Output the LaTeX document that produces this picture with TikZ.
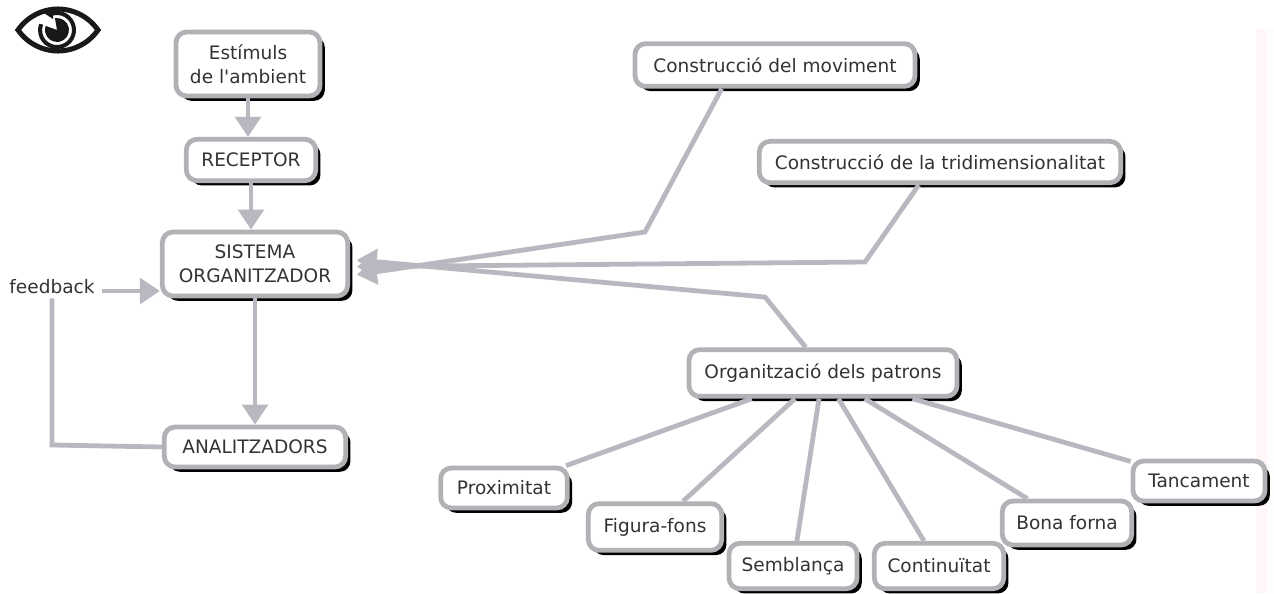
\documentclass[tikz,border=0pt]{standalone}
\usepackage{fontspec}
\setmainfont{DejaVu Sans}
\usetikzlibrary{arrows.meta,shadows}
\definecolor{linkgray}{RGB}{184,184,192}
\definecolor{edgegray}{RGB}{178,178,182}
\tikzset{
	conceptfont/.style={font=\fontsize{13.9}{18}\selectfont, text=black!80},
	conceptbox/.style={conceptfont, draw=edgegray, line width=3.6pt, fill=white, rounded corners=8pt, align=center, inner sep=0pt,
		general shadow={fill=black, shadow xshift=3.6pt, shadow yshift=-3.6pt}},
	link/.style={draw=linkgray, line width=3.6pt},
	linkarrow/.style={link, -{Triangle[length=15pt,width=19pt]}},
}
\begin{document}
\begin{tikzpicture}[x=0.75pt,y=-0.75pt]
	\useasboundingbox (0,0) rectangle (1274,593);
	\fill[red!3] (1256,29) rectangle (1267,593);
	\fill[red!1] (1267,29) rectangle (1274,593);
	% eye
	\draw[line width=3.8pt, black!90] (18,30) .. controls (38,2) and (78,2) .. (98,30) .. controls (78,58) and (38,58) .. (18,30) -- cycle;
	\draw[line width=3pt, black!90] (57,30) ++(-105:17) arc[start angle=-105, end angle=200, radius=17];
	\fill[black!90] (53,8) -- (53,19) -- (44,13) -- cycle;
	\fill[black!90] (57,30) -- +(-100:12) arc[start angle=-100, end angle=200, radius=12] -- cycle;
	% concepts
	\node[conceptbox, minimum width=108pt, minimum height=48pt] (estimuls) at (248,64) {Estímuls\\de l\textquotesingle ambient};
	\node[conceptbox, minimum width=97pt, minimum height=31pt] (receptor) at (251,160) {RECEPTOR};
	\node[conceptbox, minimum width=139pt, minimum height=48pt] (sistema) at (255,264) {SISTEMA\\ORGANITZADOR};
	\node[conceptbox, minimum width=136pt, minimum height=30pt] (analitzadors) at (255,447) {ANALITZADORS};
	\node[conceptfont, inner sep=0pt] (feedback) at (52,287) {feedback};
	\node[conceptbox, minimum width=210pt, minimum height=32pt] (moviment) at (775,65) {Construcció del moviment};
	\node[conceptbox, minimum width=271pt, minimum height=31pt] (tridi) at (940,162) {Construcció de la tridimensionalitat};
	\node[conceptbox, minimum width=201pt, minimum height=35pt] (patrons) at (823,373) {Organització dels patrons};
	\node[conceptbox, minimum width=95pt, minimum height=30pt] (proximitat) at (504,488) {Proximitat};
	\node[conceptbox, minimum width=100pt, minimum height=35pt] (figura) at (655,527) {Figura-fons};
	\node[conceptbox, minimum width=96pt, minimum height=34pt] (semblanca) at (793,566) {Semblança};
	\node[conceptbox, minimum width=97pt, minimum height=34pt] (continuitat) at (939,566) {Continuïtat};
	\node[conceptbox, minimum width=97pt, minimum height=33pt] (bona) at (1067,523) {Bona forna};
	\node[conceptbox, minimum width=99pt, minimum height=30pt] (tancament) at (1199,481) {Tancament};
	% elbows
	\coordinate (kmoviment) at (645,232);
	\coordinate (ktridi) at (865,262);
	\coordinate (kpatrons) at (765,297);
	\coordinate (kfeedback) at (52,445);
	\coordinate (ffeedback) at ([xshift=5pt,yshift=-3pt]feedback.east);
	% links
	\draw[linkarrow] (estimuls) -- (estimuls |- receptor.north);
	\draw[linkarrow] (receptor) -- (receptor |- sistema.north);
	\draw[linkarrow] (sistema) -- (analitzadors);
	\draw[linkarrow] (ffeedback) -- (ffeedback -| sistema.west);
	\draw[link] (analitzadors.west) -- (kfeedback) -- ([yshift=-3pt]feedback.south);
	\draw[linkarrow] ([xshift=-40pt]moviment.south) -- (kmoviment) -- ([xshift=5pt,yshift=-8pt]sistema.east);
	\draw[linkarrow] ([xshift=-16pt]tridi.south) -- (ktridi) -- ([xshift=5pt,yshift=-2pt]sistema.east);
	\draw[linkarrow] ([xshift=-13pt]patrons.north) -- (kpatrons) -- ([xshift=5pt,yshift=3pt]sistema.east);
	\draw[link] (patrons) -- (proximitat);
	\draw[link] (patrons) -- (figura);
	\draw[link] (patrons) -- (semblanca);
	\draw[link] (patrons) -- (continuitat);
	\draw[link] (patrons) -- (bona);
	\draw[link] (patrons) -- (tancament);
\end{tikzpicture}
\end{document}
